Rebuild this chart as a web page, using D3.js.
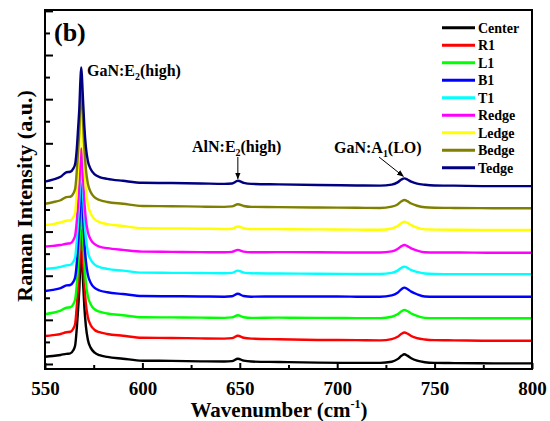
<!DOCTYPE html>
<html><head><meta charset="utf-8">
<script src="https://cdn.jsdelivr.net/npm/d3@7"></script>
<style>body{margin:0;background:#fff}svg{display:block}text{font-family:"Liberation Serif","Times New Roman",serif;font-weight:bold}</style>
</head><body><svg id="c" width="550" height="421"></svg>
<script>
// Wavenumber grid (cm^-1), shared by all spectra
const wavenumber = [550,554,558,561,563,564.5,565.5,566.3,567,567.6,568.2,568.6,569,569.5,570.2,571,572,573.5,575.5,578,582,590,600,615,630,642,646,649,652,656,670,690,710,722,728,731,733,734.5,736,738,741,745,750,760,780,800];

const seriesNames = ["Center","R1","L1","B1","T1","Redge","Ledge","Bedge","Tedge"];
const seriesColors = ["#000000","#ff0000","#00ff00","#0000ff","#00ffff","#ff00ff","#ffff00","#808000","#000080"];
// vertical stacking offsets (a.u.)
const offsets = [0.15,1.19,2.12,3.08,4.14,5.09,6.15,7.16,8.21];

// Raman intensity (a.u.) of each spectrum, before offset
const center = [0.18,0.21,0.26,0.31,0.33,0.47,0.70,1.45,2.36,3.20,4.50,5.00,4.55,3.64,2.45,1.55,0.95,0.58,0.36,0.25,0.17,0.09,0,-0.01,-0.03,-0.04,-0.02,0.09,0,-0.04,-0.06,-0.09,-0.10,-0.10,-0.05,0.07,0.22,0.29,0.23,0.11,0,-0.07,-0.10,-0.11,-0.12,-0.12];
const r1 = [0.08,0.12,0.17,0.25,0.27,0.41,0.64,1.42,2.32,3.14,4.42,4.91,4.47,3.57,2.41,1.52,0.93,0.57,0.35,0.25,0.17,0.09,0,-0.01,-0.03,-0.04,-0.02,0.09,0,-0.04,-0.07,-0.10,-0.11,-0.12,-0.06,0.04,0.18,0.24,0.19,0.08,-0.02,-0.08,-0.11,-0.12,-0.14,-0.14];
const l1 = [0.14,0.20,0.30,0.43,0.45,0.59,0.82,1.45,2.36,3.20,4.50,5.00,4.55,3.64,2.45,1.55,0.95,0.58,0.36,0.25,0.17,0.09,0,-0.01,-0.02,-0.03,-0.01,0.09,0,-0.03,-0.02,-0.03,-0.04,-0.04,0.02,0.13,0.27,0.33,0.28,0.17,0.06,-0.03,-0.04,-0.04,-0.05,-0.05];
const b1 = [0.23,0.28,0.36,0.48,0.50,0.64,0.86,1.48,2.40,3.26,4.58,5.09,4.63,3.71,2.49,1.58,0.97,0.59,0.37,0.25,0.17,0.09,0,-0.01,-0.02,-0.03,-0.01,0.10,0,-0.03,-0.02,-0.02,-0.03,-0.03,0.03,0.15,0.31,0.38,0.32,0.20,0.08,-0.02,-0.03,-0.03,-0.03,-0.03];
const t1 = [0.17,0.20,0.26,0.33,0.35,0.49,0.71,1.45,2.36,3.20,4.50,5.00,4.55,3.64,2.45,1.55,0.95,0.58,0.36,0.25,0.17,0.09,0,-0.01,-0.02,-0.03,-0.01,0.09,0,-0.03,-0.04,-0.05,-0.06,-0.06,-0.01,0.09,0.22,0.27,0.22,0.12,0.03,-0.04,-0.06,-0.07,-0.07,-0.07];
const redge = [0.23,0.26,0.30,0.36,0.38,0.52,0.75,1.36,2.21,3.00,4.21,4.68,4.26,3.41,2.29,1.45,0.89,0.54,0.34,0.23,0.16,0.08,0,-0.01,-0.02,-0.03,-0.01,0.08,0,-0.03,-0.02,-0.03,-0.04,-0.04,0.01,0.12,0.25,0.30,0.25,0.15,0.05,-0.03,-0.04,-0.04,-0.05,-0.05];
const ledge = [0.15,0.19,0.26,0.34,0.36,0.50,0.73,1.65,2.68,3.64,5.11,5.68,5.17,4.14,2.78,1.76,1.08,0.66,0.41,0.28,0.19,0.10,0,-0.01,-0.02,-0.03,-0.02,0.08,0,-0.04,-0.04,-0.05,-0.06,-0.07,-0.01,0.10,0.24,0.30,0.25,0.14,0.03,-0.05,-0.06,-0.07,-0.08,-0.08];
const bedge = [0.10,0.17,0.26,0.40,0.42,0.56,0.79,1.56,2.53,3.43,4.83,5.36,4.88,3.91,2.63,1.66,1.02,0.62,0.39,0.27,0.18,0.10,0,-0.01,-0.03,-0.04,-0.02,0.08,0,-0.04,-0.05,-0.07,-0.08,-0.09,-0.03,0.07,0.21,0.27,0.22,0.11,0.01,-0.06,-0.08,-0.09,-0.10,-0.10];
const tedge = [0.05,0.14,0.27,0.48,0.50,0.64,0.86,1.52,2.47,3.34,4.70,5.23,4.75,3.80,2.56,1.62,0.99,0.61,0.38,0.26,0.18,0.09,0,-0.01,-0.03,-0.05,-0.03,0.09,0,-0.05,-0.07,-0.10,-0.12,-0.13,-0.08,0.02,0.15,0.20,0.15,0.05,-0.04,-0.09,-0.12,-0.13,-0.15,-0.15];
const spectra = [center,r1,l1,b1,t1,redge,ledge,bedge,tedge];

const xMajorTicks = [550,600,650,700,750,800];
const xMinorTicks = [575,625,675,725,775];
const yMajorTicks = [0,2,4,6,8,10,12,14,16];
const yMinorTicks = [1,3,5,7,9,11,13,15];

const svg = d3.select("#c");
const L = 45, R = 532, T = 10, B = 369;
const x = d3.scaleLinear().domain([550,800]).range([L,R]);
const y = d3.scaleLinear().domain([-0.227,16.04]).range([B,T]);

const defs = svg.append("defs");
defs.append("clipPath").attr("id","clip")
  .append("rect").attr("x",L).attr("y",T).attr("width",R-L).attr("height",B-T);
defs.append("marker").attr("id","arr").attr("viewBox","0 0 10 10").attr("refX",9).attr("refY",5)
  .attr("markerWidth",7).attr("markerHeight",7).attr("orient","auto-start-reverse")
  .append("path").attr("d","M0,1 L10,5 L0,9 Z").attr("fill","#000");

// spectra
const line = d3.line().x((d)=>x(d[0])).y((d)=>y(d[1])).curve(d3.curveMonotoneX);
const g = svg.append("g").attr("clip-path","url(#clip)");
spectra.forEach((s,i)=>{
  const pts = wavenumber.map((w,j)=>[w, s[j]+offsets[i]]);
  g.append("path").attr("d",line(pts)).attr("fill","none")
    .attr("stroke",seriesColors[i]).attr("stroke-width",2.4).attr("stroke-linejoin","round");
});

// axes
function styleAxis(sel){ sel.select(".domain").remove(); sel.selectAll("line").attr("stroke","#000").attr("stroke-width",2); }
svg.append("g").attr("transform",`translate(0,${B})`)
  .call(d3.axisBottom(x).tickValues(xMajorTicks).tickSize(-6).tickPadding(13).tickFormat(d3.format("d")))
  .call(styleAxis)
  .selectAll("text").attr("font-size",19).attr("fill","#000").style("font-family",'"Liberation Serif",serif').style("font-weight","bold");
svg.append("g").attr("transform",`translate(0,${B})`)
  .call(d3.axisBottom(x).tickValues(xMinorTicks).tickSize(-4).tickFormat(""))
  .call(styleAxis);
svg.append("g").attr("transform",`translate(${L},0)`)
  .call(d3.axisLeft(y).tickValues(yMajorTicks).tickSize(-8).tickFormat(""))
  .call(styleAxis);
svg.append("g").attr("transform",`translate(${L},0)`)
  .call(d3.axisLeft(y).tickValues(yMinorTicks).tickSize(-5).tickFormat(""))
  .call(styleAxis);

svg.append("rect").attr("x",L).attr("y",T).attr("width",R-L).attr("height",B-T)
  .attr("fill","none").attr("stroke","#000").attr("stroke-width",2);

// axis titles
const xt = svg.append("text").attr("x",279).attr("y",417).attr("text-anchor","middle").attr("font-size",21);
xt.append("tspan").text("Wavenumber (cm");
xt.append("tspan").attr("font-size",12).attr("dy",-9).text("-1");
xt.append("tspan").attr("dy",9).text(")");
svg.append("text").attr("transform","translate(32,196) rotate(-90)").attr("text-anchor","middle")
  .attr("font-size",22).text("Raman Intensity (a.u.)");

svg.append("text").attr("x",54).attr("y",41).attr("font-size",26).text("(b)");

// annotations
function sub(a, s, b, fs, xx, yy){
  const t = svg.append("text").attr("x",xx).attr("y",yy).attr("font-size",fs);
  t.append("tspan").text(a);
  t.append("tspan").attr("font-size",fs*0.62).attr("dy",4).text(s);
  t.append("tspan").attr("dy",-4).text(b);
}
sub("GaN:E","2","(high)",16,87,76);
sub("AlN:E","2","(high)",16,192,152);
sub("GaN:A","1","(LO)",16,334,153);

const ti = 8;
svg.append("line").attr("x1",x(649)).attr("y1",157).attr("x2",x(649)).attr("y2",y(offsets[ti]+tedge[27])-2)
  .attr("stroke","#000").attr("stroke-width",1).attr("marker-end","url(#arr)");
svg.append("line").attr("x1",379).attr("y1",157).attr("x2",x(734.5)-1).attr("y2",y(offsets[ti]+tedge[37])-2)
  .attr("stroke","#000").attr("stroke-width",1).attr("marker-end","url(#arr)");

// legend
const lg = svg.append("g");
seriesNames.forEach((n,i)=>{
  const yy = 27.7 + i*17.5;
  lg.append("line").attr("x1",442).attr("x2",475).attr("y1",yy).attr("y2",yy)
    .attr("stroke",seriesColors[i]).attr("stroke-width",3);
  lg.append("text").attr("x",478).attr("y",yy).attr("dy","0.35em").attr("font-size",14).text(n);
});
</script></body></html>
